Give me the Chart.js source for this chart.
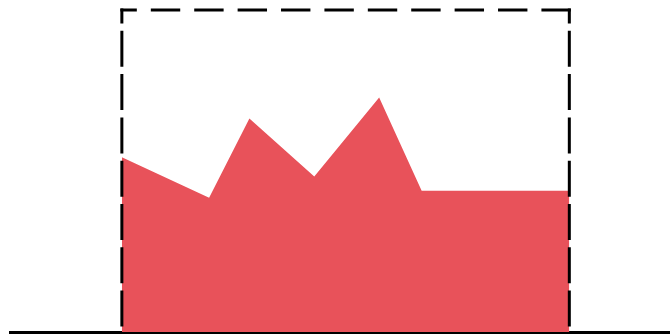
<!DOCTYPE html>
<html>
<head>
<meta charset="utf-8">
<script src="https://cdn.jsdelivr.net/npm/chart.js@4/dist/chart.umd.min.js"></script>
<style>
  html, body { margin: 0; padding: 0; background: #fff; }
  .wrap { width: 670px; height: 335px; position: relative; }
</style>
</head>
<body>
<div class="wrap"><canvas id="myChart"></canvas></div>
<script>
// series
const xValues = [0, 1.95, 2.85, 4.3, 5.75, 6.7, 10];
const yValues = [54.3, 41.7, 66.3, 48.3, 72.8, 43.9, 43.9];
const X_MIN = -2.5;
const X_MAX = 12.25;
const Y_MAX = 100;

// dashed frame around the data range
const frameBox = {
  id: 'frameBox',
  afterDatasetsDraw(chart) {
    const { ctx, scales: { x, y } } = chart;
    const left = x.getPixelForValue(xValues[0]);
    const right = x.getPixelForValue(xValues[xValues.length - 1]);
    const top = y.getPixelForValue(Y_MAX);
    const bottom = y.getPixelForValue(0);
    ctx.save();
    ctx.strokeStyle = '#000';
    ctx.lineWidth = 3;
    ctx.lineCap = 'butt';
    // top edge, right to left
    ctx.setLineDash([29.4, 14]);
    ctx.beginPath();
    ctx.moveTo(right + 1.5, top);
    ctx.lineTo(left - 1.5, top);
    ctx.stroke();
    // sides, top to bottom
    ctx.setLineDash([36, 7.3]);
    ctx.lineDashOffset = 21;
    [left, right].forEach((px) => {
      ctx.beginPath();
      ctx.moveTo(px, top - 1.5);
      ctx.lineTo(px, bottom);
      ctx.stroke();
    });
    ctx.restore();
  },
};

const ctx = document.getElementById('myChart').getContext('2d');
new Chart(ctx, {
  type: 'line',
  data: {
    datasets: [{
      data: xValues.map((v, i) => ({ x: v, y: yValues[i] })),
      fill: 'origin',
      backgroundColor: 'rgb(232, 82, 90)',
      borderWidth: 0,
      pointRadius: 0,
      tension: 0,
    }],
  },
  options: {
    responsive: true,
    maintainAspectRatio: false,
    animation: false,
    layout: { padding: { left: 10, top: 10, right: 0, bottom: 3 } },
    plugins: { legend: { display: false }, tooltip: { enabled: false } },
    scales: {
      x: {
        type: 'linear',
        min: X_MIN,
        max: X_MAX,
        grid: { display: false, drawTicks: false },
        ticks: { display: false },
        border: { display: true, color: '#000', width: 3 },
      },
      y: {
        display: false,
        min: 0,
        max: Y_MAX,
      },
    },
  },
  plugins: [frameBox],
});
</script>
</body>
</html>
